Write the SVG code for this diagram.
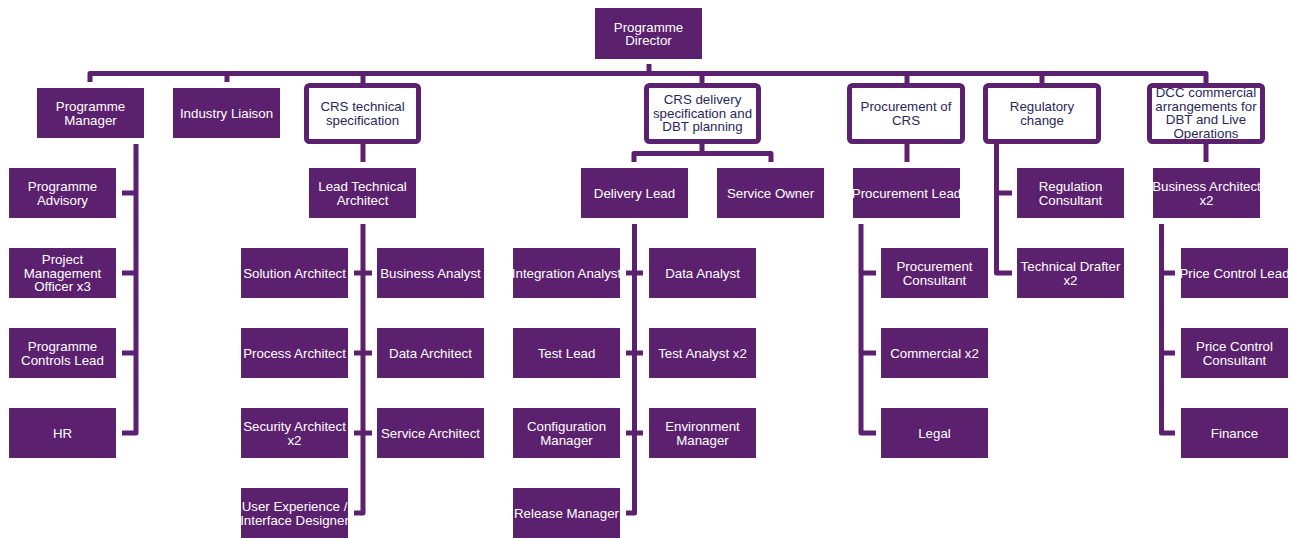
<svg xmlns="http://www.w3.org/2000/svg" width="1293" height="538" viewBox="0 0 1293 538">
  <style>
    .box { fill: #5c216e; }
    .frame { fill: #ffffff; stroke: #5c216e; stroke-width: 5; }
    .lbl { font-family: "Liberation Sans", Arial, sans-serif; font-size: 13.3px; fill: #ffffff; text-anchor: middle; }
    .lbl.dark { fill: #27285a; }
    .conn path { fill: none; stroke: #5c216e; stroke-width: 5; stroke-linejoin: round; stroke-linecap: butt; }
  </style>
  <defs>
    <clipPath id="clip-ux"><rect x="241" y="488" width="107" height="50"/></clipPath>
    <clipPath id="clip-ia"><rect x="513" y="248" width="107" height="50"/></clipPath>
    <clipPath id="clip-pl"><rect x="853" y="168" width="107" height="50"/></clipPath>
    <clipPath id="clip-bax"><rect x="1153" y="168" width="107" height="50"/></clipPath>
    <clipPath id="clip-pcl"><rect x="1181" y="248" width="107" height="50"/></clipPath>
  </defs>

  <!-- connectors -->
  <g id="connectors" class="conn">
    <!-- top bus -->
    <path d="M649 64 V73.5"/>
    <path d="M90 82 V73.5 H1206 V83"/>
    <path d="M227 73.5 V82"/>
    <path d="M363 73.5 V83"/>
    <path d="M702 73.5 V83"/>
    <path d="M907 73.5 V83"/>
    <path d="M1042 73.5 V83"/>
    <!-- programme manager team -->
    <path d="M136 144 V433 H122"/>
    <path d="M136 193 H122"/>
    <path d="M136 273 H122"/>
    <path d="M136 353 H122"/>
    <!-- technical specification -->
    <path d="M363 144 V162"/>
    <path d="M363 224 V513 H354"/>
    <path d="M354 273 H372"/>
    <path d="M354 353 H372"/>
    <path d="M354 433 H372"/>
    <!-- delivery specification -->
    <path d="M702 144 V153.5"/>
    <path d="M634 162 V153.5 H771 V162"/>
    <path d="M634.5 224 V513 H626"/>
    <path d="M626 273 H643"/>
    <path d="M626 353 H643"/>
    <path d="M626 433 H643"/>
    <!-- procurement -->
    <path d="M907 143 V162"/>
    <path d="M861 224 V433 H876"/>
    <path d="M861 273 H876"/>
    <path d="M861 353 H876"/>
    <!-- regulatory change -->
    <path d="M996.5 143 V273 H1012"/>
    <path d="M996.5 193 H1012"/>
    <!-- commercial arrangements -->
    <path d="M1206 143 V162"/>
    <path d="M1161.5 224 V433 H1175"/>
    <path d="M1161.5 273 H1175"/>
    <path d="M1161.5 353 H1175"/>
  </g>

  <!-- top level -->
  <g id="programme-director">
    <rect class="box" x="595" y="8" width="107" height="51"/>
    <text class="lbl" x="648.5" y="31.5">Programme<tspan x="648.5" dy="13.5">Director</tspan></text>
  </g>

  <!-- workstream heads -->
  <g id="programme-manager">
    <rect class="box" x="37" y="88" width="107" height="50"/>
    <text class="lbl" x="90.5" y="111">Programme<tspan x="90.5" dy="13.5">Manager</tspan></text>
  </g>
  <g id="industry-liaison">
    <rect class="box" x="173" y="88" width="107" height="50"/>
    <text class="lbl" x="226.5" y="117.7">Industry Liaison</text>
  </g>
  <g id="crs-technical-specification">
    <rect class="frame" x="306.5" y="85.5" width="112" height="56" rx="3"/>
    <text class="lbl dark" x="362.5" y="111">CRS technical<tspan x="362.5" dy="13.5">specification</tspan></text>
  </g>
  <g id="crs-delivery-specification">
    <rect class="frame" x="646.5" y="85.5" width="112" height="56" rx="3"/>
    <text class="lbl dark" x="702.5" y="104">CRS delivery<tspan x="702.5" dy="13.5">specification and</tspan><tspan x="702.5" dy="13.5">DBT planning</tspan></text>
  </g>
  <g id="procurement-of-crs">
    <rect class="frame" x="849.5" y="85.5" width="113" height="56" rx="3"/>
    <text class="lbl dark" x="906" y="111">Procurement of<tspan x="906" dy="13.5">CRS</tspan></text>
  </g>
  <g id="regulatory-change">
    <rect class="frame" x="985.5" y="85.5" width="113" height="56" rx="3"/>
    <text class="lbl dark" x="1042" y="111">Regulatory<tspan x="1042" dy="13.5">change</tspan></text>
  </g>
  <g id="dcc-commercial-arrangements">
    <rect class="frame" x="1149.5" y="85.5" width="113" height="56" rx="3"/>
    <text class="lbl dark" x="1206" y="97.3">DCC commercial<tspan x="1206" dy="13.5">arrangements for</tspan><tspan x="1206" dy="13.5">DBT and Live</tspan><tspan x="1206" dy="13.5">Operations</tspan></text>
  </g>

  <!-- programme manager team -->
  <g id="programme-advisory">
    <rect class="box" x="9" y="168" width="107" height="50"/>
    <text class="lbl" x="62.5" y="191">Programme<tspan x="62.5" dy="13.5">Advisory</tspan></text>
  </g>
  <g id="project-management-officer">
    <rect class="box" x="9" y="248" width="107" height="50"/>
    <text class="lbl" x="62.5" y="264.2">Project<tspan x="62.5" dy="13.5">Management</tspan><tspan x="62.5" dy="13.5">Officer x3</tspan></text>
  </g>
  <g id="programme-controls-lead">
    <rect class="box" x="9" y="328" width="107" height="50"/>
    <text class="lbl" x="62.5" y="351">Programme<tspan x="62.5" dy="13.5">Controls Lead</tspan></text>
  </g>
  <g id="hr">
    <rect class="box" x="9" y="408" width="107" height="50"/>
    <text class="lbl" x="62.5" y="437.7">HR</text>
  </g>

  <!-- technical specification team -->
  <g id="lead-technical-architect">
    <rect class="box" x="309" y="168" width="107" height="50"/>
    <text class="lbl" x="362.5" y="191">Lead Technical<tspan x="362.5" dy="13.5">Architect</tspan></text>
  </g>
  <g id="solution-architect">
    <rect class="box" x="241" y="248" width="107" height="50"/>
    <text class="lbl" x="294.5" y="277.7">Solution Architect</text>
  </g>
  <g id="business-analyst">
    <rect class="box" x="377" y="248" width="107" height="50"/>
    <text class="lbl" x="430.5" y="277.7">Business Analyst</text>
  </g>
  <g id="process-architect">
    <rect class="box" x="241" y="328" width="107" height="50"/>
    <text class="lbl" x="294.5" y="357.7">Process Architect</text>
  </g>
  <g id="data-architect">
    <rect class="box" x="377" y="328" width="107" height="50"/>
    <text class="lbl" x="430.5" y="357.7">Data Architect</text>
  </g>
  <g id="security-architect">
    <rect class="box" x="241" y="408" width="107" height="50"/>
    <text class="lbl" x="294.5" y="431">Security Architect<tspan x="294.5" dy="13.5">x2</tspan></text>
  </g>
  <g id="service-architect">
    <rect class="box" x="377" y="408" width="107" height="50"/>
    <text class="lbl" x="430.5" y="437.7">Service Architect</text>
  </g>
  <g id="ux-interface-designer" clip-path="url(#clip-ux)">
    <rect class="box" x="241" y="488" width="107" height="50"/>
    <text class="lbl" x="294.5" y="511">User Experience /<tspan x="294.5" dy="13.5">Interface Designer</tspan></text>
  </g>

  <!-- delivery team -->
  <g id="delivery-lead">
    <rect class="box" x="581" y="168" width="107" height="50"/>
    <text class="lbl" x="634.5" y="197.7">Delivery Lead</text>
  </g>
  <g id="service-owner">
    <rect class="box" x="717" y="168" width="107" height="50"/>
    <text class="lbl" x="770.5" y="197.7">Service Owner</text>
  </g>
  <g id="integration-analyst" clip-path="url(#clip-ia)">
    <rect class="box" x="513" y="248" width="107" height="50"/>
    <text class="lbl" x="566.5" y="277.7">Integration Analyst</text>
  </g>
  <g id="data-analyst">
    <rect class="box" x="649" y="248" width="107" height="50"/>
    <text class="lbl" x="702.5" y="277.7">Data Analyst</text>
  </g>
  <g id="test-lead">
    <rect class="box" x="513" y="328" width="107" height="50"/>
    <text class="lbl" x="566.5" y="357.7">Test Lead</text>
  </g>
  <g id="test-analyst">
    <rect class="box" x="649" y="328" width="107" height="50"/>
    <text class="lbl" x="702.5" y="357.7">Test Analyst x2</text>
  </g>
  <g id="configuration-manager">
    <rect class="box" x="513" y="408" width="107" height="50"/>
    <text class="lbl" x="566.5" y="431">Configuration<tspan x="566.5" dy="13.5">Manager</tspan></text>
  </g>
  <g id="environment-manager">
    <rect class="box" x="649" y="408" width="107" height="50"/>
    <text class="lbl" x="702.5" y="431">Environment<tspan x="702.5" dy="13.5">Manager</tspan></text>
  </g>
  <g id="release-manager">
    <rect class="box" x="513" y="488" width="107" height="50"/>
    <text class="lbl" x="566.5" y="517.7">Release Manager</text>
  </g>

  <!-- procurement team -->
  <g id="procurement-lead" clip-path="url(#clip-pl)">
    <rect class="box" x="853" y="168" width="107" height="50"/>
    <text class="lbl" x="906.5" y="197.7">Procurement Lead</text>
  </g>
  <g id="procurement-consultant">
    <rect class="box" x="881" y="248" width="107" height="50"/>
    <text class="lbl" x="934.5" y="271">Procurement<tspan x="934.5" dy="13.5">Consultant</tspan></text>
  </g>
  <g id="commercial">
    <rect class="box" x="881" y="328" width="107" height="50"/>
    <text class="lbl" x="934.5" y="357.7">Commercial x2</text>
  </g>
  <g id="legal">
    <rect class="box" x="881" y="408" width="107" height="50"/>
    <text class="lbl" x="934.5" y="437.7">Legal</text>
  </g>

  <!-- regulatory team -->
  <g id="regulation-consultant">
    <rect class="box" x="1017" y="168" width="107" height="50"/>
    <text class="lbl" x="1070.5" y="191">Regulation<tspan x="1070.5" dy="13.5">Consultant</tspan></text>
  </g>
  <g id="technical-drafter">
    <rect class="box" x="1017" y="248" width="107" height="50"/>
    <text class="lbl" x="1070.5" y="271">Technical Drafter<tspan x="1070.5" dy="13.5">x2</tspan></text>
  </g>

  <!-- commercial arrangements team -->
  <g id="business-architect" clip-path="url(#clip-bax)">
    <rect class="box" x="1153" y="168" width="107" height="50"/>
    <text class="lbl" x="1206.5" y="191">Business Architect<tspan x="1206.5" dy="13.5">x2</tspan></text>
  </g>
  <g id="price-control-lead" clip-path="url(#clip-pcl)">
    <rect class="box" x="1181" y="248" width="107" height="50"/>
    <text class="lbl" x="1234.5" y="277.7">Price Control Lead</text>
  </g>
  <g id="price-control-consultant">
    <rect class="box" x="1181" y="328" width="107" height="50"/>
    <text class="lbl" x="1234.5" y="351">Price Control<tspan x="1234.5" dy="13.5">Consultant</tspan></text>
  </g>
  <g id="finance">
    <rect class="box" x="1181" y="408" width="107" height="50"/>
    <text class="lbl" x="1234.5" y="437.7">Finance</text>
  </g>
</svg>
